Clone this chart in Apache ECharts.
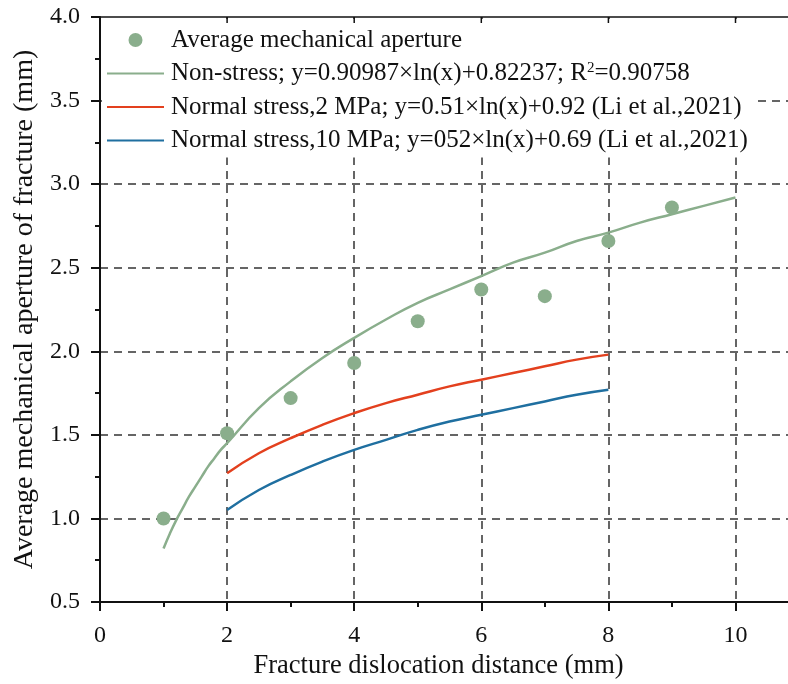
<!DOCTYPE html>
<html>
<head>
<meta charset="utf-8">
<script src="https://cdn.jsdelivr.net/npm/echarts@6/dist/echarts.min.js"></script>
<style>
  html, body { margin: 0; padding: 0; background: #fff; }
  #chart { width: 788px; height: 684px; }
</style>
</head>
<body>
<div id="chart"></div>
<script>
// measured points
var pointX = [1, 2, 3, 4, 5, 6, 7, 8, 9];
var pointY = [1.00, 1.51, 1.72, 1.93, 2.18, 2.37, 2.33, 2.66, 2.86];

// fitted curves
var fitX = [1, 1.1, 1.2, 1.3, 1.4, 1.5, 1.6, 1.7, 1.8, 1.9, 2, 2.5, 3, 3.5, 4, 4.5, 5, 5.5, 6, 6.5, 7, 7.5, 8, 8.5, 9, 9.5, 10];
var fitY = [0.82, 0.91, 0.99, 1.06, 1.13, 1.19, 1.25, 1.31, 1.36, 1.41, 1.45, 1.66, 1.82, 1.96, 2.08, 2.19, 2.29, 2.37, 2.45, 2.53, 2.59, 2.66, 2.71, 2.77, 2.82, 2.87, 2.92];

var liX = [2, 2.5, 3, 3.5, 4, 4.5, 5, 5.5, 6, 6.5, 7, 7.5, 8];
var red2Y = [1.27, 1.39, 1.48, 1.56, 1.63, 1.69, 1.74, 1.79, 1.83, 1.87, 1.91, 1.95, 1.98];
var blue10Y = [1.05, 1.17, 1.26, 1.34, 1.41, 1.47, 1.53, 1.58, 1.62, 1.66, 1.70, 1.74, 1.77];

var xTicks = [0, 2, 4, 6, 8, 10];

var names = [
  "Average mechanical aperture",
  "Non-stress; y=0.90987×ln(x)+0.82237; R{sup|2}=0.90758",
  "Normal stress,2 MPa; y=0.51×ln(x)+0.92 (Li et al.,2021)",
  "Normal stress,10 MPa; y=052×ln(x)+0.69 (Li et al.,2021)"
];

function pairs(xs, ys) {
  return xs.map(function (x, i) { return [x, ys[i]]; });
}

var font = "'Liberation Serif', 'Times New Roman', serif";
var dash = { color: "#333", width: 1.5, type: [8, 6] };

var chart = echarts.init(document.getElementById("chart"));
chart.setOption({
  animation: false,
  textStyle: { fontFamily: font, color: "#111" },
  grid: { left: 100, top: 17, width: 699, height: 585, outerBoundsMode: "none" },
  legend: {
    orient: "vertical",
    left: 102,
    top: 19,
    itemWidth: 57,
    itemHeight: 14,
    itemGap: 7.5,
    backgroundColor: "#fff",
    padding: [8, 5, 4, 4],
    z: 3,
    data: names.map(function (n, i) {
      return i === 0 ? { name: n } : { name: n, itemStyle: { opacity: 0 } };
    }),
    textStyle: {
      fontFamily: font,
      fontSize: 25,
      lineHeight: 26,
      color: "#111",
      padding: [0, 0, 0, 2],
      rich: {
        sup: { fontSize: 15, verticalAlign: "top", lineHeight: 14, fontFamily: font, color: "#111" }
      }
    }
  },
  xAxis: {
    type: "value",
    min: 0,
    max: 11,
    interval: 2,
    name: "Fracture dislocation distance (mm)",
    nameLocation: "middle",
    nameGap: 50,
    nameTextStyle: { fontSize: 26.5, fontFamily: font, color: "#111", padding: [0, 22, 0, 0] },
    axisLine: { lineStyle: { color: "#111", width: 2 } },
    axisTick: { length: 9, lineStyle: { width: 2, color: "#111" } },
    minorTick: { show: true, splitNumber: 2, length: 5, lineStyle: { width: 2, color: "#111" } },
    axisLabel: {
      fontSize: 24, fontFamily: font, color: "#111", margin: 22,
      formatter: function (v) { return xTicks.indexOf(v) >= 0 ? String(v) : ""; }
    },
    splitLine: { show: true, lineStyle: dash, showMinLine: false }
  },
  yAxis: {
    type: "value",
    min: 0.5,
    max: 4.0,
    interval: 0.5,
    name: "Average mechanical aperture of fracture (mm)",
    nameLocation: "middle",
    nameGap: 58,
    nameTextStyle: { fontSize: 28, fontFamily: font, color: "#111" },
    axisLine: { show: true, lineStyle: { color: "#111", width: 2 } },
    axisTick: { show: true, length: 9, lineStyle: { width: 2, color: "#111" } },
    minorTick: { show: true, splitNumber: 2, length: 5, lineStyle: { width: 2, color: "#111" } },
    axisLabel: {
      fontSize: 24, fontFamily: font, color: "#111", margin: 20,
      formatter: function (v) { return v.toFixed(1); }
    },
    splitLine: { show: true, lineStyle: dash, showMinLine: false, showMaxLine: false }
  },
  series: [
    {
      name: names[0],
      type: "scatter",
      symbol: "circle",
      symbolSize: 14,
      itemStyle: { color: "#8aae8c", opacity: 1 },
      data: pairs(pointX, pointY),
      z: 5
    },
    {
      name: names[1],
      type: "line",
      symbol: "none",
      smooth: true,
      lineStyle: { color: "#8aae8c", width: 2.5 },
      itemStyle: { color: "#8aae8c" },
      data: pairs(fitX, fitY)
    },
    {
      name: names[2],
      type: "line",
      symbol: "none",
      smooth: true,
      lineStyle: { color: "#e3401e", width: 2.5 },
      itemStyle: { color: "#e3401e" },
      data: pairs(liX, red2Y)
    },
    {
      name: names[3],
      type: "line",
      symbol: "none",
      smooth: true,
      lineStyle: { color: "#1f6fa0", width: 2.5 },
      itemStyle: { color: "#1f6fa0" },
      data: pairs(liX, blue10Y)
    }
  ],
  graphic: [{
    type: "line",
    shape: { x1: 100, y1: 17, x2: 788, y2: 17 },
    style: { stroke: "#111", lineWidth: 1.5 },
    z: 10
  }].concat(xTicks.slice(1).map(function (v) {
    return {
      type: "line",
      shape: { x1: 0, y1: 17, x2: 0, y2: 23 },
      x: 100 + v * 63.55,
      style: { stroke: "#111", lineWidth: 1.5 },
      z: 10
    };
  }))
});
</script>
</body>
</html>
